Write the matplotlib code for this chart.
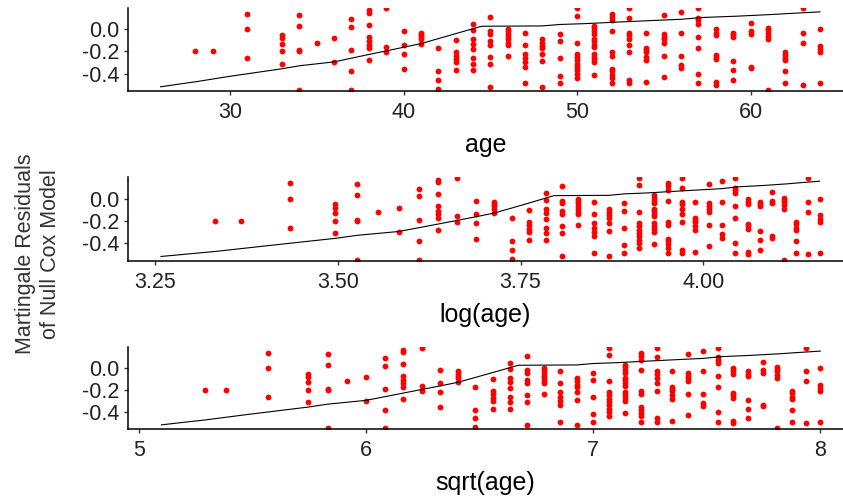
import numpy as np
import matplotlib
matplotlib.use('Agg')
import matplotlib.pyplot as plt

plt.rcParams['font.family'] = ['Liberation Sans', 'DejaVu Sans']

# martingale residuals, grouped by age (points outside the y window are not shown)
ages = [28, 29, 31, 33, 34, 35, 36, 37, 38, 39, 40, 41, 42, 43, 44, 45, 46, 47, 48,
        49, 50, 51, 52, 53, 54, 55, 56, 57, 58, 59, 60, 61, 62, 63, 64]
resid = [
    [-0.20],
    [-0.20],
    [0.14, 0.0, -0.26],
    [-0.05, -0.08, -0.13, -0.20, -0.31],
    [0.13, 0.03, -0.19, -0.20, -0.55],
    [-0.12],
    [-0.08, -0.30],
    [0.09, 0.02, -0.19, -0.38, -0.55],
    [0.17, 0.15, 0.04, -0.07, -0.11, -0.14, -0.17, -0.28],
    [0.19, -0.16, -0.21],
    [-0.02, -0.14, -0.22, -0.36],
    [-0.03, -0.05, -0.07, -0.09, -0.13],
    [-0.17, -0.38, -0.46, -0.54],
    [-0.10, -0.21, -0.24, -0.27, -0.30, -0.37],
    [0.05, -0.01, -0.09, -0.13, -0.18, -0.26, -0.31, -0.37],
    [0.11, -0.02, -0.04, -0.11, -0.14, -0.25, -0.31, -0.52],
    [0.0, -0.02, -0.04, -0.07, -0.09, -0.12, -0.14, -0.24],
    [-0.03, -0.14, -0.22, -0.26, -0.30, -0.34, -0.49],
    [-0.09, -0.12, -0.15, -0.17, -0.22, -0.29, -0.52],
    [-0.04, -0.11, -0.26, -0.42, -0.49],
    [0.19, 0.12, -0.12, -0.22, -0.25, -0.28, -0.31, -0.34, -0.37, -0.40, -0.44],
    [0.03, 0.01, -0.02, -0.04, -0.09, -0.11, -0.14, -0.16, -0.22, -0.25, -0.27, -0.30, -0.41],
    [0.14, 0.11, 0.08, -0.02, -0.21, -0.24, -0.36, -0.38, -0.41, -0.44, -0.49],
    [0.19, 0.10, -0.03, -0.05, -0.09, -0.14, -0.21, -0.46, -0.49],
    [-0.03, -0.17, -0.19, -0.21, -0.25, -0.28, -0.48],
    [0.13, -0.04, -0.07, -0.09, -0.12, -0.24, -0.43],
    [0.16, -0.03, -0.24, -0.32, -0.35],
    [0.19, 0.10, 0.08, 0.05, -0.07, -0.17, -0.40, -0.49],
    [0.0, -0.03, -0.05, -0.23, -0.25, -0.27, -0.48, -0.50],
    [-0.03, -0.05, -0.07, -0.29, -0.37, -0.46],
    [0.06, -0.02, -0.04, -0.34, -0.35],
    [0.01, -0.01, -0.03, -0.06, -0.09, -0.55],
    [-0.21, -0.23, -0.26, -0.28, -0.38, -0.49],
    [0.19, -0.03, -0.12, -0.50],
    [0.0, -0.15, -0.18, -0.21, -0.49],
]

# smoothed fit
fit_age = [26, 27, 28, 30, 33, 34, 36, 38, 40, 41, 42, 43, 44, 44.5, 48, 49,
           50.5, 52.5, 54.5, 56, 57.2, 59.2, 61.2, 62.2, 64]
fit_val = [-0.52, -0.497, -0.475, -0.425, -0.357, -0.33, -0.295, -0.228, -0.163,
           -0.13, -0.085, -0.04, 0.005, 0.027, 0.03, 0.043, 0.051, 0.066, 0.08,
           0.09, 0.106, 0.118, 0.133, 0.142, 0.157]

pt_age = np.array([a for a, r in zip(ages, resid) for _ in r], dtype=float)
pt_val = np.array([v for r in resid for v in r])
fit_age = np.array(fit_age, dtype=float)

panels = [
    ('age', lambda x: x, [30, 40, 50, 60], ['30', '40', '50', '60'], (24.12, 65.33)),
    ('log(age)', np.log, [3.25, 3.50, 3.75, 4.00], ['3.25', '3.50', '3.75', '4.00'], (3.213, 4.191)),
    ('sqrt(age)', np.sqrt, [5, 6, 7, 8], ['5', '6', '7', '8'], (4.952, 8.10)),
]
boxes = [(8, 91), (177.3, 260.7), (347.3, 429)]

fig = plt.figure(figsize=(8.43, 4.99), dpi=100)
W, H = 843, 499
for (name, f, ticks, labels, xl), (top, bot) in zip(panels, boxes):
    ax = fig.add_axes([128 / W, 1 - bot / H, 1 - 128 / W, (bot - top) / H])
    ax.plot(f(pt_age), pt_val, 'o', color='red', ms=4.2, mew=0)
    ax.plot(f(fit_age), fit_val, color='black', lw=0.8)
    ax.set_xlim(*xl)
    ax.set_ylim(-0.558, 0.192)
    ax.set_xticks(ticks)
    ax.set_xticklabels(labels)
    ax.set_yticks([0.0, -0.2, -0.4])
    ax.set_yticklabels(['0.0', '-0.2', '-0.4'])
    for s in ['top', 'right']:
        ax.spines[s].set_visible(False)
    for s in ['left', 'bottom']:
        ax.spines[s].set_linewidth(1.1)
    ax.tick_params(axis='both', direction='out', length=3, width=1.0, color='#333333')
    ax.tick_params(axis='x', labelsize=15.5, labelcolor='#222222', pad=5)
    ax.tick_params(axis='y', labelsize=15.5, labelcolor='#222222', pad=3)
    ax.set_xlabel(name, fontsize=18, labelpad=7)

fig.text(0.045, 0.491, 'Martingale Residuals\nof Null Cox Model', rotation=90,
         ha='center', va='center', multialignment='center', fontsize=15.5,
         color='#333333', linespacing=1.25)

fig.savefig('out.png', dpi=100)
